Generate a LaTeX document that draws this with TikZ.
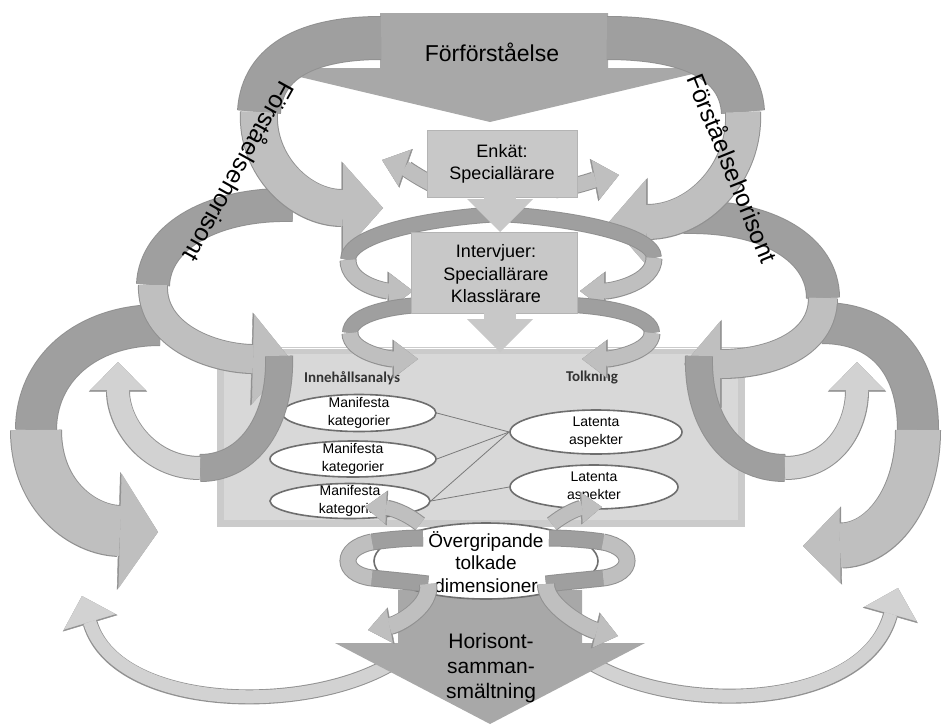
\documentclass[tikz,border=0pt]{standalone}
\usepackage{fontspec}
\setmainfont{Liberation Sans}
\newfontfamily\calfont{Carlito}
\usetikzlibrary{arrows.meta,shapes.geometric}

\definecolor{ribdark}{HTML}{9F9F9F}
\definecolor{riblight}{HTML}{BFBFBF}
\definecolor{ribpale}{HTML}{D2D2D2}
\definecolor{ribedge}{HTML}{919191}
\definecolor{bigarrow}{HTML}{A8A8A8}
\definecolor{panelout}{HTML}{CBCBCB}
\definecolor{panelin}{HTML}{D8D8D8}
\definecolor{boxgray}{HTML}{C8C8C8}
\definecolor{boxedge}{HTML}{B4B4B4}
\definecolor{ovalline}{HTML}{6E6E6E}
\definecolor{linkgray}{HTML}{7A7A7A}
\definecolor{labelgray}{HTML}{333333}

% ribbon piece without head: width, colour, path
\newcommand\ribseg[3]{%
  \pgfmathsetlengthmacro\rw{#1+2}%
  \draw[line width=\rw, draw=ribedge] #3;
  \draw[line width=#1pt, draw=#2] #3;}
% ribbon piece ending in a head: width, head width, head length, colour, path
\newcommand\ribarrow[5]{%
  \pgfmathsetlengthmacro\rw{#1+2}%
  \pgfmathsetlengthmacro\rh{#2+3}%
  \pgfmathsetlengthmacro\rl{#3+1.5}%
  \draw[line width=\rw, draw=ribedge,
        -{Triangle[length=\rl,width=\rh,line width=0.4pt]}] #5;
  \draw[line width=#1pt, draw=#4,
        -{Triangle[length=#3pt,width=#2pt,line width=0.4pt]}] #5;}

\tikzset{
  oval/.style={ellipse, draw=ovalline, line width=1.6pt, fill=white, inner sep=0pt},
  ovaltext/.style={align=center, inner sep=0pt, font=\fontsize{14}{18}\selectfont},
  conn/.style={draw=linkgray, line width=0.8pt},
  stagebox/.style={rectangle, fill=boxgray, draw=boxedge, line width=0.8pt, inner sep=0pt},
  stagetext/.style={align=center, inner sep=0pt, font=\fontsize{18}{22.5}\selectfont},
  headlabel/.style={inner sep=0pt, text=labelgray, font=\calfont\bfseries\fontsize{15}{15}\selectfont},
  horizonlabel/.style={inner sep=0pt, font=\fontsize{24.5}{24.5}\selectfont},
}

\begin{document}
\begin{tikzpicture}[x=1pt,y=-1pt]
\useasboundingbox (0,0) rectangle (945,726);

% thin lower arcs
\ribarrow{13}{54}{27}{ribpale}{(408,652) .. controls (330,716) and (118,716) .. (82,596)}
\ribarrow{13}{54}{27}{ribpale}{(575,652) .. controls (655,716) and (862,716) .. (898,588)}

% merging arrow at the bottom
\path[fill=bigarrow] (398,590) -- (582,590) -- (582,643) -- (645,643) -- (490,724)
  -- (335,643) -- (398,643) -- cycle;
\node[align=center, inner sep=0pt, font=\fontsize{21}{25}\selectfont] (merge) at (491,668)
  {Horisont-\\samman-\\smältning};

% analysis panel
\path[fill=panelout] (217,347) rectangle (745,527);
\path[fill=panelin] (224,354) rectangle (738,520);
\draw[white, line width=1pt] (218,348) -- (744,348);
\node[headlabel] (content) at (352,378) {Innehållsanalys};
\node[headlabel] (interp) at (592,378) {Tolkning};

\node[oval, minimum width=154, minimum height=37] (m1) at (359,413) {};
\node[oval, minimum width=166, minimum height=36] (m2) at (353,459) {};
\node[oval, minimum width=160, minimum height=35] (m3) at (350,501) {};
\node[oval, minimum width=172, minimum height=44] (l1) at (596,432) {};
\node[oval, minimum width=168, minimum height=44] (l2) at (594,487) {};
\node[ovaltext] (m1t) at (m1) {Manifesta\\kategorier};
\node[ovaltext] (m2t) at (m2) {Manifesta\\kategorier};
\node[ovaltext] (m3t) at (m3) {Manifesta\\kategorier};
\node[ovaltext] (l1t) at (l1) {Latenta\\aspekter};
\node[ovaltext] (l2t) at (l2) {Latenta\\aspekter};
\draw[conn] (m1.east) -- (l1.west);
\draw[conn] (m2.east) -- (l1.west);
\draw[conn] (m3.east) -- (l1.west);
\draw[conn] (m3.east) -- (l2.west);

% overall dimensions
\node[oval, minimum width=224, minimum height=76] (dim) at (486,561) {};
\node[align=center, inner sep=0pt, font=\fontsize{19}{22.5}\selectfont] (dimt) at (486,562)
  {Övergripande\\tolkade\\dimensioner};

% outer loops
\ribseg{40}{ribdark}{(160,325) .. controls (85,325) and (36,370) .. (36,430)}
\ribarrow{50}{115}{38}{riblight}{(36,430) .. controls (36,498) and (85,530) .. (158,532)}
\ribseg{40}{ribdark}{(822,323) .. controls (885,323) and (918,365) .. (918,430)}
\ribarrow{44}{75}{37}{riblight}{(918,430) .. controls (918,500) and (880,545) .. (803,546)}

% second loops
\ribseg{32}{ribdark}{(293,205) .. controls (215,203) and (155,235) .. (153,285)}
\ribarrow{28}{90}{38}{riblight}{(153,285) .. controls (151,335) and (210,358) .. (291,360)}
\ribseg{32}{ribdark}{(683,217) .. controls (770,215) and (823,250) .. (823,298)}
\ribarrow{28}{85}{36}{riblight}{(823,298) .. controls (823,345) and (770,364) .. (684,364)}

% inner loops beside the panel
\ribseg{26}{ribdark}{(279,356) .. controls (281,420) and (250,468) .. (200,468)}
\ribarrow{22}{55}{28}{ribpale}{(200,468) .. controls (150,468) and (118,425) .. (118,362)}
\ribseg{26}{ribdark}{(699,356) .. controls (697,420) and (730,468) .. (785,468)}
\ribarrow{22}{55}{28}{ribpale}{(785,468) .. controls (835,468) and (857,425) .. (857,362)}

% pre-understanding arrow
\path[fill=bigarrow] (380,13) -- (608,13) -- (608,68) -- (718,68) -- (490,122)
  -- (262,68) -- (380,68) -- cycle;
\node[inner sep=0pt, font=\fontsize{23}{23}\selectfont] (pre) at (492,52) {Förförståelse};

% top ring
\ribseg{42}{ribdark}{(381,38) .. controls (310,38) and (262,60) .. (259,112)}
\ribarrow{36}{90}{40}{riblight}{(259,112) .. controls (256,165) and (300,208) .. (383,208)}
\ribseg{42}{ribdark}{(607,38) .. controls (690,38) and (740,62) .. (743,112)}
\ribarrow{34}{85}{37}{riblight}{(743,112) .. controls (746,170) and (700,222) .. (609,222)}

% small spirals round the data collection
\ribarrow{15}{38}{24}{riblight}{(445,190) .. controls (425,182) and (405,168) .. (382,160)}
\ribseg{14}{ribdark}{(500,214) .. controls (430,218) and (348,234) .. (348,260)}
\ribarrow{15}{36}{24}{riblight}{(348,260) .. controls (348,284) and (385,291) .. (413,291)}
\ribseg{14}{ribdark}{(420,305) .. controls (385,307) and (350,316) .. (350,333)}
\ribarrow{15}{36}{24}{riblight}{(350,333) .. controls (350,352) and (388,359) .. (418,359)}
\ribarrow{15}{40}{24}{riblight}{(555,190) .. controls (577,186) and (594,180) .. (619,175)}
\ribseg{14}{ribdark}{(500,214) .. controls (570,218) and (654,234) .. (654,258)}
\ribarrow{15}{36}{24}{riblight}{(654,258) .. controls (654,283) and (612,291) .. (580,291)}
\ribseg{14}{ribdark}{(572,305) .. controls (612,307) and (652,316) .. (652,333)}
\ribarrow{15}{36}{24}{riblight}{(652,333) .. controls (652,352) and (612,359) .. (582,359)}

% data collection steps
\node[stagebox, minimum width=150, minimum height=67] (survey) at (502,163.5) {};
\node[stagetext] (surveyt) at (502,164) {Enkät:\\Speciallärare};
\path[fill=boxgray] (484,190) rectangle (516,201);
\path[fill=boxgray] (467,199) -- (533,199) -- (500,232) -- cycle;
\node[stagebox, minimum width=166, minimum height=81] (interview) at (494,272.5) {};
\node[stagetext] (interviewt) at (496,274) {Intervjuer:\\Speciallärare\\Klasslärare};
\path[fill=boxgray] (484,308) rectangle (516,320);
\path[fill=boxgray] (467,319) -- (533,319) -- (500,352) -- cycle;

% spirals round the overall dimensions
\ribarrow{14}{32}{21}{riblight}{(420,524) .. controls (405,512) and (390,508) .. (365,507)}
\ribseg{15}{ribdark}{(423,538) .. controls (405,538) and (385,540) .. (372,542)}
\ribseg{15}{riblight}{(372,542) .. controls (340,548) and (340,574) .. (372,578)}
\ribseg{15}{ribdark}{(372,578) .. controls (390,580) and (412,582) .. (428,584)}
\ribarrow{16}{34}{22}{riblight}{(428,584) .. controls (432,605) and (400,624) .. (368,630)}
\ribarrow{14}{30}{20}{riblight}{(552,524) .. controls (567,512) and (580,508) .. (602,507)}
\ribseg{15}{ribdark}{(549,538) .. controls (568,538) and (590,540) .. (603,542)}
\ribseg{15}{riblight}{(603,542) .. controls (635,548) and (635,574) .. (603,578)}
\ribseg{15}{ribdark}{(603,578) .. controls (585,580) and (562,582) .. (546,584)}
\ribarrow{16}{34}{22}{riblight}{(546,584) .. controls (545,605) and (585,628) .. (618,636)}

% horizon labels on the ribbons
\node[horizonlabel, rotate=-119] (horleft) at (240,172) {Förståelsehorisont};
\node[horizonlabel, rotate=-68] (horright) at (733,168) {Förståelsehorisont};
\end{tikzpicture}
\end{document}
